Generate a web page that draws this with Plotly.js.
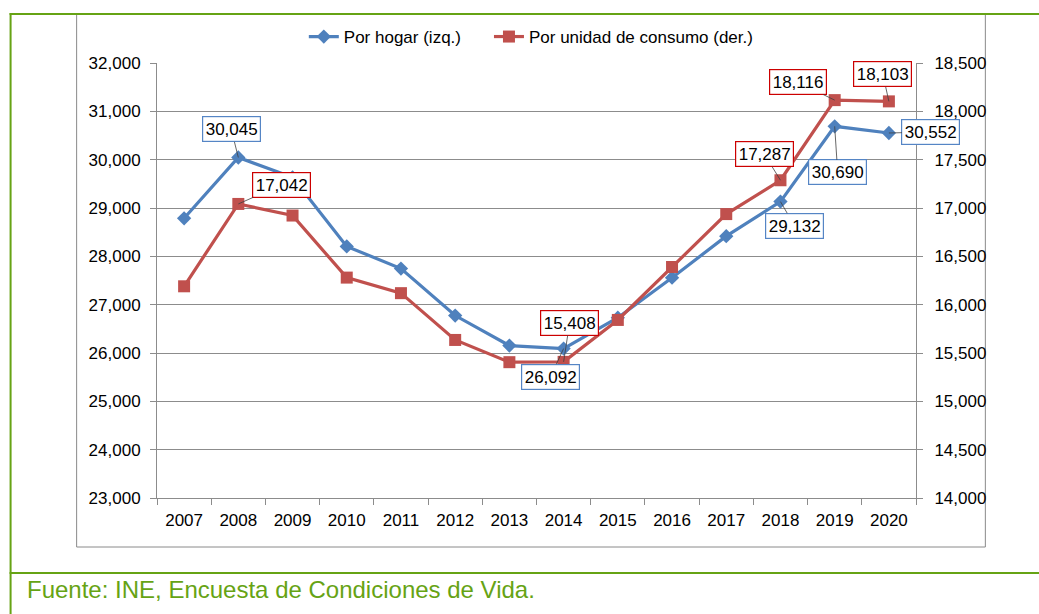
<!DOCTYPE html>
<html>
<head>
<meta charset="utf-8">
<script src="https://cdn.plot.ly/plotly-3.0.1.min.js"></script>
<style>
  html, body { margin: 0; padding: 0; background: #ffffff; }
  #chart { width: 1039px; height: 614px; }
</style>
</head>
<body>
<div id="chart"></div>
<script>
// ---- Data ----
const years = ["2007","2008","2009","2010","2011","2012","2013","2014","2015","2016","2017","2018","2019","2020"];
const porHogar = [28787, 30045, 29634, 28206, 27747, 26775, 26154, 26092, 26730, 27558, 28417, 29132, 30690, 30552];
const porUnidadConsumo = [16190, 17042, 16922, 16280, 16119, 15635, 15405, 15408, 15842, 16390, 16937, 17287, 18116, 18103];
const seriesNames = ["Por hogar (izq.)", "Por unidad de consumo (der.)"];
const labeledYears = ["2008", "2014", "2018", "2019", "2020"];
const leftTicks = [23000, 24000, 25000, 26000, 27000, 28000, 29000, 30000, 31000, 32000];
const rightTicks = [14000, 14500, 15000, 15500, 16000, 16500, 17000, 17500, 18000, 18500];
const sourceNote = "Fuente: INE, Encuesta de Condiciones de Vida.";

// ---- Styling / geometry ----
const W = 1039, H = 614;
const plotL = 157.3, plotR = 915.7, plotT = 63, plotB = 498;
const xp = px => (px - plotL) / (plotR - plotL);
const yp = py => (plotB - py) / (plotB - plotT);
const FONT = "Liberation Sans, Arial, sans-serif";
const BLUE = "#4F81BD", RED = "#C0504D";
const BLUE_BOX = "#5585C5", RED_BOX = "#CC0000";
const GREEN = "#66A314";
const GRID = "#8c8c8c";
const fmt = v => v.toLocaleString("en-US");

// label offsets (pixels) for labeled points, by year
const blueOffsets = {"2008": [-7, -28], "2014": [-13, 28], "2018": [14, 24], "2019": [3, 46], "2020": [42, -1]};
const redOffsets  = {"2008": [43, -19], "2014": [6, -39], "2018": [-16, -26], "2019": [-37, -18], "2020": [-6, -27]};

const traces = [
  {
    x: years, y: porHogar, name: seriesNames[0], type: "scatter", mode: "lines+markers",
    yaxis: "y", legend: "legend", line: {color: BLUE, width: 3.2},
    marker: {symbol: "diamond", size: 11, color: BLUE}
  },
  {
    x: years, y: porUnidadConsumo, name: seriesNames[1], type: "scatter", mode: "lines+markers",
    yaxis: "y2", legend: "legend2", line: {color: RED, width: 3.2},
    marker: {symbol: "square", size: 12, color: RED}
  }
];

const annotations = [];
labeledYears.forEach(yr => {
  const i = years.indexOf(yr);
  const bo = blueOffsets[yr], ro = redOffsets[yr];
  annotations.push({
    x: i, y: porHogar[i], xref: "x", yref: "y", text: fmt(porHogar[i]),
    showarrow: true, arrowhead: 0, arrowwidth: 0.8, arrowcolor: "#404040", standoff: 0,
    ax: bo[0], ay: bo[1], bgcolor: "#ffffff", bordercolor: BLUE_BOX, borderwidth: 1.2, borderpad: 2.5,
    font: {family: FONT, size: 17, color: "#000000"}
  });
  annotations.push({
    x: i, y: porUnidadConsumo[i], xref: "x", yref: "y2", text: fmt(porUnidadConsumo[i]),
    showarrow: true, arrowhead: 0, arrowwidth: 0.8, arrowcolor: "#404040", standoff: 0,
    ax: ro[0], ay: ro[1], bgcolor: "#ffffff", bordercolor: RED_BOX, borderwidth: 1.2, borderpad: 2.5,
    font: {family: FONT, size: 17, color: "#000000"}
  });
});
annotations.push({
  xref: "paper", yref: "paper", x: xp(25), y: yp(589), xanchor: "left", yanchor: "middle",
  text: sourceNote, showarrow: false, font: {family: FONT, size: 24, color: GREEN}
});

const shapes = [
  // grey chart-area frame
  {type: "rect", xref: "paper", yref: "paper", x0: xp(77), x1: xp(985), y0: yp(547), y1: yp(14),
   line: {color: "#8a8a8a", width: 1}, layer: "below"},
  // green frame lines
  {type: "line", xref: "paper", yref: "paper", x0: xp(11), x1: xp(11), y0: yp(13), y1: yp(614),
   line: {color: GREEN, width: 2}},
  {type: "line", xref: "paper", yref: "paper", x0: xp(10), x1: xp(1039), y0: yp(14), y1: yp(14),
   line: {color: GREEN, width: 2}},
  {type: "line", xref: "paper", yref: "paper", x0: xp(10), x1: xp(1039), y0: yp(573), y1: yp(573),
   line: {color: GREEN, width: 2}}
];

const legendStyle = (xpx) => ({
  orientation: "h", x: xp(xpx), xanchor: "left", y: yp(37), yanchor: "middle",
  font: {family: FONT, size: 17, color: "#000000"}, bgcolor: "rgba(0,0,0,0)",
  itemwidth: 30
});

const layout = {
  width: W, height: H,
  margin: {l: plotL, r: W - plotR, t: plotT, b: H - plotB, pad: 0},
  paper_bgcolor: "#ffffff", plot_bgcolor: "#ffffff",
  font: {family: FONT, size: 17, color: "#000000"},
  showlegend: true,
  legend: legendStyle(304),
  legend2: legendStyle(489),
  xaxis: {
    type: "category", showgrid: false, showline: true, linecolor: GRID, linewidth: 1,
    ticks: "outside", tickson: "boundaries", ticklen: 6, tickcolor: GRID, ticklabelstandoff: 7,
    tickfont: {family: FONT, size: 17, color: "#000000"}, zeroline: false,
    range: [-0.5, years.length - 0.5], fixedrange: true
  },
  yaxis: {
    range: [23000, 32000], tickvals: leftTicks, ticktext: leftTicks.map(fmt),
    showgrid: true, gridcolor: GRID, gridwidth: 1, showline: true, linecolor: GRID,
    ticks: "outside", ticklen: 6, tickcolor: GRID, ticklabelstandoff: 6,
    tickfont: {family: FONT, size: 17, color: "#000000"}, zeroline: false
  },
  yaxis2: {
    range: [14000, 18500], tickvals: rightTicks, ticktext: rightTicks.map(fmt),
    overlaying: "y", side: "right", showgrid: false, showline: true, linecolor: GRID,
    ticks: "outside", ticklen: 6, tickcolor: GRID, ticklabelstandoff: 8,
    tickfont: {family: FONT, size: 17, color: "#000000"}, zeroline: false
  },
  annotations: annotations,
  shapes: shapes
};

Plotly.newPlot("chart", traces, layout, {displayModeBar: false, staticPlot: true});
</script>
</body>
</html>
